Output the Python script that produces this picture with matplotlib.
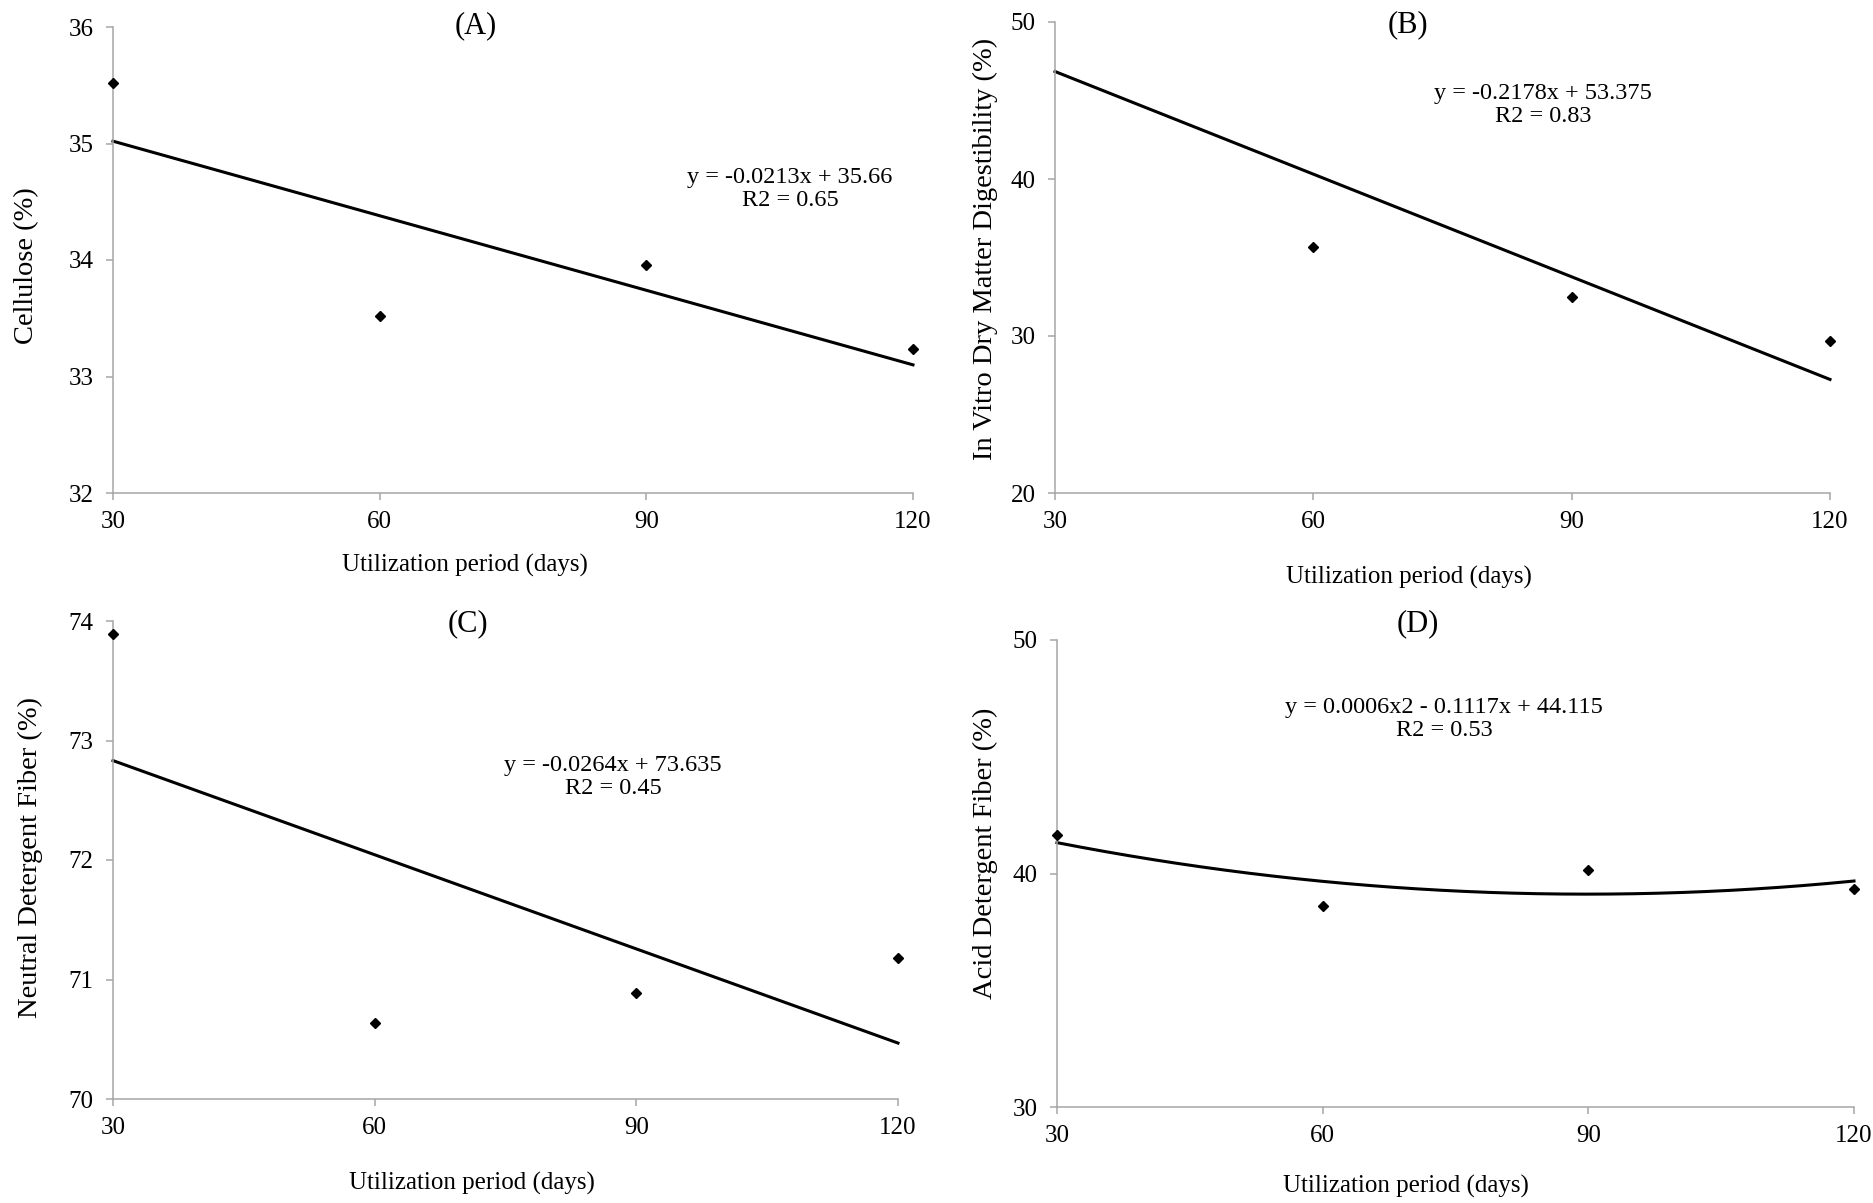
import numpy as np
import matplotlib
matplotlib.use("Agg")
import matplotlib.pyplot as plt

plt.rcParams['font.family'] = ['Liberation Serif', 'DejaVu Serif']

# == Data ==
days = [30, 60, 90, 120]

cellulose = [35.52, 33.52, 33.96, 33.24]
ivdmd = [50.37, 35.68, 32.46, 29.65]  # first point sits above the axis top
ndf = [73.89, 70.64, 70.89, 71.18]
adf = [41.67, 38.62, 40.16, 39.33]

titles = ["(A)", "(B)", "(C)", "(D)"]
ylabels = ["Cellulose (%)", "In Vitro Dry Matter Digestibility (%)",
           "Neutral Detergent Fiber (%)", "Acid Detergent Fiber (%)"]
equations = ["y = -0.0213x + 35.66\nR2 = 0.65",
             "y = -0.2178x + 53.375\nR2 = 0.83",
             "y = -0.0264x + 73.635\nR2 = 0.45",
             "y = 0.0006x2 - 0.1117x + 44.115\nR2 = 0.53"]
fit_degree = [1, 1, 1, 2]
yticks = [[32, 33, 34, 35, 36], [20, 30, 40, 50], [70, 71, 72, 73, 74], [30, 40, 50]]
xticks = [30, 60, 90, 120]

W, H = 1874, 1203

# pixel boxes: left, right, top, bottom
boxes = [(113, 913, 27, 493), (1055, 1830, 22, 493),
         (113, 898, 621, 1099), (1057, 1854, 640, 1107)]
# title, equation, xlabel, ylabel centres in pixels
title_pos = [(476, 26), (1408, 25), (468, 624), (1418, 624)]
eq_pos = [(790, 189), (1543, 105), (613, 777), (1444, 719)]
xlab_pos = [(465, 565), (1409, 577), (472, 1183), (1406, 1186)]
ylab_pos = [(27, 266), (985, 249), (30, 858), (985, 853)]

fig = plt.figure(figsize=(W / 100, H / 100), dpi=100)
spine_col = "#a6a6a6"

series = [cellulose, ivdmd, ndf, adf]

for i in range(4):
    l, r, t, b = boxes[i]
    ax = fig.add_axes([l / W, 1 - b / H, (r - l) / W, (b - t) / H])
    y = np.array(series[i])
    x = np.array(days)
    lo, hi = yticks[i][0], yticks[i][-1]

    # trend line fitted to data
    coef = np.polyfit(x, y, fit_degree[i])
    xs = np.linspace(30, 120, 200)
    ax.plot(xs, np.polyval(coef, xs), color="black", lw=2.2, clip_on=False, zorder=2)

    # points (only those within the axis range are shown)
    mask = (y >= lo) & (y <= hi)
    ax.plot(x[mask], y[mask], linestyle="none", marker="D", ms=5.6,
            color="black", clip_on=False, zorder=3)

    ax.set_xlim(30, 120)
    ax.set_ylim(lo, hi)
    ax.set_xticks(xticks)
    ax.set_yticks(yticks[i])
    for s in ["top", "right"]:
        ax.spines[s].set_visible(False)
    for s in ["left", "bottom"]:
        ax.spines[s].set_color(spine_col)
        ax.spines[s].set_linewidth(1.1)
    ax.tick_params(direction="out", length=5, width=1.1, color=spine_col,
                   labelsize=18, pad=8)
    ax.tick_params(axis="y", pad=9)

    fig.text(title_pos[i][0] / W, 1 - title_pos[i][1] / H, titles[i],
             ha="center", va="center", fontsize=22)
    fig.text(eq_pos[i][0] / W, 1 - eq_pos[i][1] / H, equations[i],
             ha="center", va="center", fontsize=17.5, linespacing=1.12)
    fig.text(xlab_pos[i][0] / W, 1 - xlab_pos[i][1] / H, "Utilization period (days)",
             ha="center", va="center", fontsize=18)
    fig.text(ylab_pos[i][0] / W, 1 - ylab_pos[i][1] / H, ylabels[i],
             ha="center", va="center", fontsize=20.5, rotation=90)

fig.savefig("out.png", dpi=100)
